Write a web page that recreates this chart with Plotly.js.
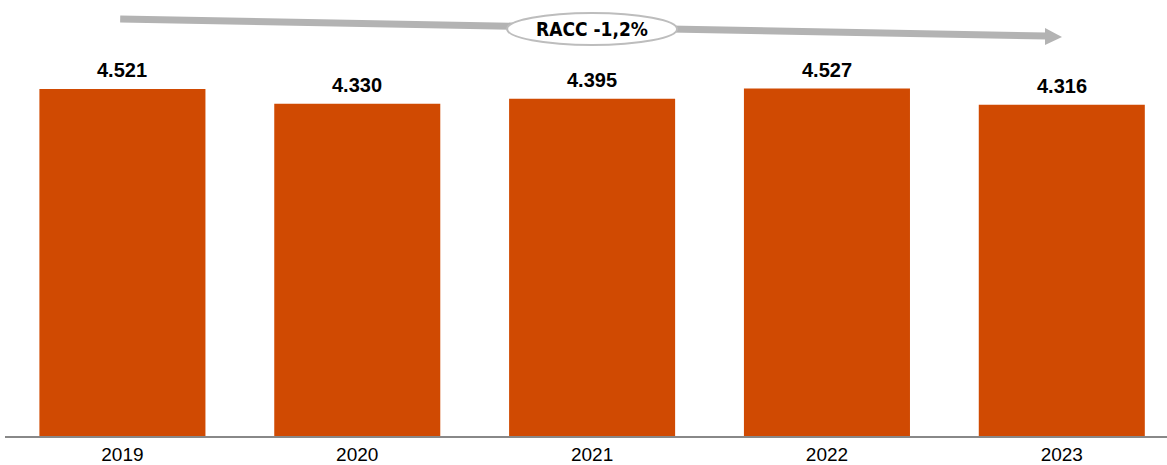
<!DOCTYPE html>
<html><head><meta charset="utf-8">
<script src="https://cdn.plot.ly/plotly-3.0.1.min.js"></script>
<style>html,body{margin:0;padding:0;background:#fff;}#chart{width:1167px;height:465px;}</style>
</head><body><div id="chart"></div>
<script>
const years = ['2019','2020','2021','2022','2023'];
const values = [4521, 4330, 4395, 4527, 4316];
const raccLabel = 'RACC -1,2%';

const W = 1167, H = 465, L = 4.8, B = 29;
const pw = W - L, ph = H - B;
const px = x => (x - L) / pw;
const py = y => (ph - y) / ph;
const fmt = v => v.toLocaleString('de-DE');

const trace = {
  type: 'bar', x: years, y: values,
  marker: {color: '#D04A02'},
  width: 0.707,
  cliponaxis: false, hoverinfo: 'skip'
};

const labelAnns = years.map((yr, i) => ({
  x: i, y: values[i], xref: 'x', yref: 'y', text: fmt(values[i]), showarrow: false,
  xanchor: 'center', yanchor: 'bottom', yshift: 6,
  font: {family: 'Liberation Sans, Arial, sans-serif', size: 20, color: '#000', weight: 'bold'}
}));

const layout = {
  width: W, height: H,
  margin: {l: L, r: 0, t: 0, b: B},
  paper_bgcolor: '#fff', plot_bgcolor: '#fff',
  showlegend: false,
  xaxis: {type: 'category', range: [-0.5, 4.448], showline: true, linecolor: '#888', linewidth: 1.5,
          ticks: '', showgrid: false, zeroline: false, ticklabelstandoff: 1, automargin: false,
          tickfont: {family: 'Liberation Sans, Arial, sans-serif', size: 19, color: '#000'}},
  yaxis: {range: [0, 5681], visible: false, showgrid: false, zeroline: false},
  shapes: [
    {type: 'line', xref: 'paper', yref: 'paper', x0: px(120), y0: py(19), x1: px(1047), y1: py(36),
     line: {color: '#B3B3B3', width: 7}},
    {type: 'path', xref: 'paper', yref: 'paper',
     path: `M ${px(1045)} ${py(28)} L ${px(1062)} ${py(37)} L ${px(1045)} ${py(45)} Z`,
     fillcolor: '#B3B3B3', line: {width: 0}},
    {type: 'circle', xref: 'paper', yref: 'paper', x0: px(507), y0: py(13), x1: px(677), y1: py(45),
     fillcolor: '#fff', line: {color: '#BDBDBD', width: 2}}
  ],
  annotations: labelAnns.concat([
    {xref: 'paper', yref: 'paper', x: px(592), y: py(29), text: raccLabel, showarrow: false,
     xanchor: 'center', yanchor: 'middle',
     font: {family: 'DejaVu Sans Condensed, Liberation Sans Narrow, Liberation Sans, sans-serif', size: 19, color: '#000', weight: 'bold'}}
  ])
};

Plotly.newPlot('chart', [trace], layout, {displayModeBar: false, staticPlot: true});
</script></body></html>
